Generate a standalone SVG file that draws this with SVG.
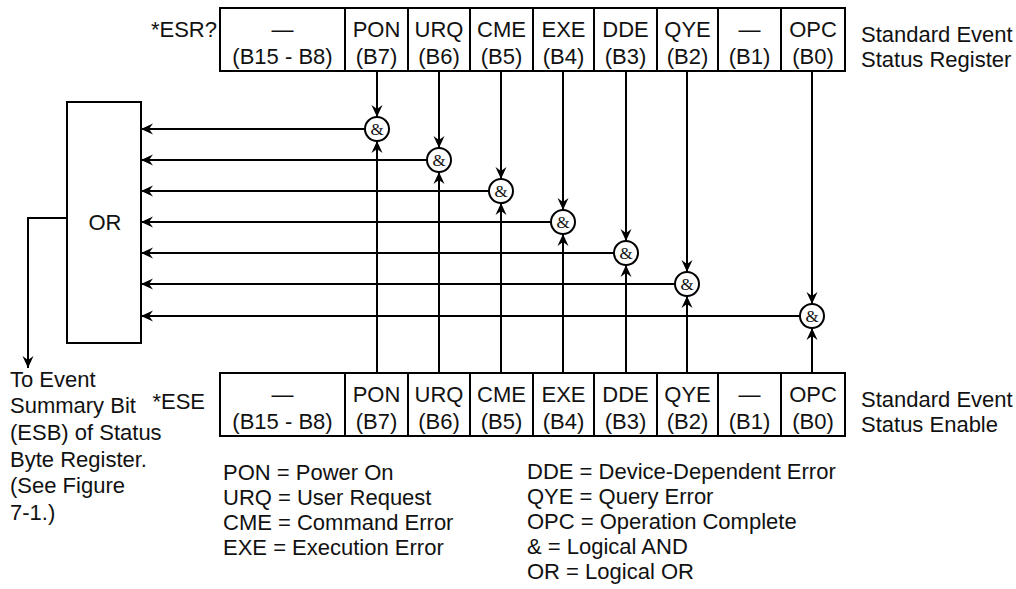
<svg xmlns="http://www.w3.org/2000/svg" width="1016" height="589" viewBox="0 0 1016 589">
<style>
  .bg{fill:#ffffff}
  .box{fill:#ffffff;stroke:#000;stroke-width:2}
  .div{stroke:#000;stroke-width:2;fill:none}
  .t{font-family:"Liberation Sans",Arial,sans-serif;font-size:22px;fill:#111}
  .c{text-anchor:middle}
  .e{text-anchor:end}
  .amp{font-family:"Liberation Serif","Times New Roman",serif;font-size:17px;fill:#111;text-anchor:middle}
  .gate{fill:#ffffff;stroke:#000;stroke-width:2}
  .w{stroke:#000;stroke-width:2;fill:none}
  .wa{stroke:#000;stroke-width:2;fill:none;marker-end:url(#ah)}
</style>
<defs>
  <marker id="ah" viewBox="-12 -6 12 12" refX="0" refY="0" markerWidth="12" markerHeight="12" markerUnits="userSpaceOnUse" orient="auto">
    <path d="M0,0 L-12,-5.5 L-8,0 L-12,5.5 Z" fill="#000"/>
  </marker>
</defs>
<rect class="bg" x="0" y="0" width="1016" height="589"/>

<g id="connectors">
  <!-- top register to gates -->
  <path class="wa" d="M377,71 V117"/>
  <path class="wa" d="M439,71 V148"/>
  <path class="wa" d="M501,71 V179"/>
  <path class="wa" d="M563,71 V210"/>
  <path class="wa" d="M626,71 V241"/>
  <path class="wa" d="M687,71 V272"/>
  <path class="wa" d="M812,71 V304"/>
  <!-- bottom register to gates -->
  <path class="wa" d="M377,373 V141"/>
  <path class="wa" d="M439,373 V172"/>
  <path class="wa" d="M501,373 V203"/>
  <path class="wa" d="M563,373 V234"/>
  <path class="wa" d="M626,373 V265"/>
  <path class="wa" d="M687,373 V296"/>
  <path class="wa" d="M812,373 V328"/>
  <!-- gates to OR -->
  <path class="wa" d="M365,129 H141"/>
  <path class="wa" d="M427,160 H141"/>
  <path class="wa" d="M489,191 H141"/>
  <path class="wa" d="M551,222 H141"/>
  <path class="wa" d="M614,253 H141"/>
  <path class="wa" d="M675,284 H141"/>
  <path class="wa" d="M800,316 H141"/>
  <!-- OR output -->
  <path class="wa" d="M67,218 H28 V368"/>
</g>

<g id="esr-register">
  <rect class="box" x="220" y="8" width="625" height="63"/>
  <path class="div" d="M345,8V71 M408,8V71 M470,8V71 M533,8V71 M594,8V71 M657,8V71 M718,8V71 M781,8V71"/>
  <text class="t e" x="217" y="37">*ESR?</text>
  <text class="t c" x="282.5" y="37">—</text><text class="t c" x="282.5" y="64">(B15 - B8)</text>
  <text class="t c" x="376.5" y="37">PON</text><text class="t c" x="376.5" y="64">(B7)</text>
  <text class="t c" x="439" y="37">URQ</text><text class="t c" x="439" y="64">(B6)</text>
  <text class="t c" x="501.5" y="37">CME</text><text class="t c" x="501.5" y="64">(B5)</text>
  <text class="t c" x="563.5" y="37">EXE</text><text class="t c" x="563.5" y="64">(B4)</text>
  <text class="t c" x="625.5" y="37">DDE</text><text class="t c" x="625.5" y="64">(B3)</text>
  <text class="t c" x="687.5" y="37">QYE</text><text class="t c" x="687.5" y="64">(B2)</text>
  <text class="t c" x="749.5" y="37">—</text><text class="t c" x="749.5" y="64">(B1)</text>
  <text class="t c" x="813" y="37">OPC</text><text class="t c" x="813" y="64">(B0)</text>
  <text class="t" x="861" y="42">Standard Event</text>
  <text class="t" x="861" y="67">Status Register</text>
</g>

<g id="ese-register">
  <rect class="box" x="220" y="373" width="625" height="63"/>
  <path class="div" d="M345,373V436 M408,373V436 M470,373V436 M533,373V436 M594,373V436 M657,373V436 M718,373V436 M781,373V436"/>
  <text class="t e" x="205" y="409">*ESE</text>
  <text class="t c" x="282.5" y="402">—</text><text class="t c" x="282.5" y="429">(B15 - B8)</text>
  <text class="t c" x="376.5" y="402">PON</text><text class="t c" x="376.5" y="429">(B7)</text>
  <text class="t c" x="439" y="402">URQ</text><text class="t c" x="439" y="429">(B6)</text>
  <text class="t c" x="501.5" y="402">CME</text><text class="t c" x="501.5" y="429">(B5)</text>
  <text class="t c" x="563.5" y="402">EXE</text><text class="t c" x="563.5" y="429">(B4)</text>
  <text class="t c" x="625.5" y="402">DDE</text><text class="t c" x="625.5" y="429">(B3)</text>
  <text class="t c" x="687.5" y="402">QYE</text><text class="t c" x="687.5" y="429">(B2)</text>
  <text class="t c" x="749.5" y="402">—</text><text class="t c" x="749.5" y="429">(B1)</text>
  <text class="t c" x="813" y="402">OPC</text><text class="t c" x="813" y="429">(B0)</text>
  <text class="t" x="861" y="407">Standard Event</text>
  <text class="t" x="861" y="432">Status Enable</text>
</g>

<g id="or-gate">
  <rect class="box" x="67" y="102" width="74" height="241"/>
  <text class="t c" x="105" y="230">OR</text>
</g>

<g id="and-pon"><circle class="gate" cx="377" cy="129" r="12"/><text class="amp" x="377" y="135">&amp;</text></g>
<g id="and-urq"><circle class="gate" cx="439" cy="160" r="12"/><text class="amp" x="439" y="166">&amp;</text></g>
<g id="and-cme"><circle class="gate" cx="501" cy="191" r="12"/><text class="amp" x="501" y="197">&amp;</text></g>
<g id="and-exe"><circle class="gate" cx="563" cy="222" r="12"/><text class="amp" x="563" y="228">&amp;</text></g>
<g id="and-dde"><circle class="gate" cx="626" cy="253" r="12"/><text class="amp" x="626" y="259">&amp;</text></g>
<g id="and-qye"><circle class="gate" cx="687" cy="284" r="12"/><text class="amp" x="687" y="290">&amp;</text></g>
<g id="and-opc"><circle class="gate" cx="812" cy="316" r="12"/><text class="amp" x="812" y="322">&amp;</text></g>

<g id="esb-note">
  <text class="t" x="10" y="387">To Event</text>
  <text class="t" x="10" y="413">Summary Bit</text>
  <text class="t" x="10" y="440">(ESB) of Status</text>
  <text class="t" x="10" y="467">Byte Register.</text>
  <text class="t" x="10" y="493">(See Figure</text>
  <text class="t" x="10" y="520">7-1.)</text>
</g>

<g id="legend">
  <text class="t" x="223" y="480">PON = Power On</text>
  <text class="t" x="223" y="505">URQ = User Request</text>
  <text class="t" x="223" y="530">CME = Command Error</text>
  <text class="t" x="223" y="555">EXE = Execution Error</text>
  <text class="t" x="527" y="479">DDE = Device-Dependent Error</text>
  <text class="t" x="527" y="504">QYE = Query Error</text>
  <text class="t" x="527" y="529">OPC = Operation Complete</text>
  <text class="t" x="527" y="554">&amp; = Logical AND</text>
  <text class="t" x="527" y="579">OR = Logical OR</text>
</g>
</svg>
